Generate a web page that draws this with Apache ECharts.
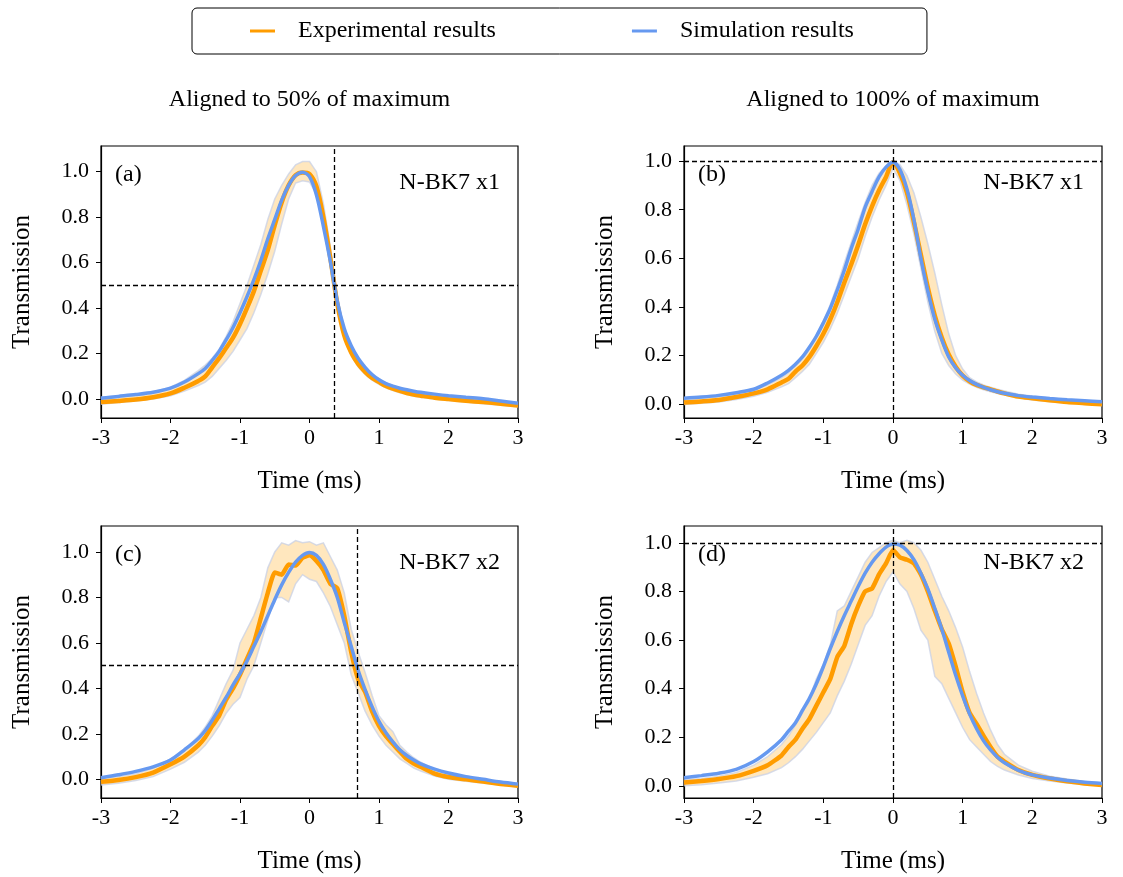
<!DOCTYPE html>
<html><head><meta charset="utf-8">
<script src="https://cdn.jsdelivr.net/npm/echarts@6/dist/echarts.min.js"></script>
<style>html,body{margin:0;padding:0;background:#fff}#c{width:1123px;height:877px}</style>
</head><body><div id="c"></div>
<script>
// shared time grid (ms)
const T = [-3,-2.75,-2.5,-2.25,-2,-1.8,-1.6,
  -1.5,-1.4,-1.3,-1.2,-1.1,-1.0,-0.9,-0.8,-0.7,-0.6,-0.5,-0.4,-0.3,-0.2,-0.1,0,0.1,0.2,0.3,0.4,0.5,0.6,0.7,0.8,0.9,1.0,1.1,1.2,1.3,1.4,1.5,
  1.6,1.8,2,2.25,2.5,2.75,3];

// (a) N-BK7 x1, aligned to 50%
const expA = [-0.013,-0.008,-0.002,0.008,0.025,0.05,0.08,
  0.1,0.14,0.18,0.225,0.27,0.33,0.4,0.475,0.565,0.655,0.765,0.865,0.94,0.985,0.997,0.99,0.935,0.8,0.62,0.42,0.28,0.205,0.155,0.12,0.093,0.075,0.058,0.046,0.036,0.027,0.02,
  0.015,0.006,0.0,-0.007,-0.013,-0.02,-0.028];
const simA = [0.004,0.012,0.02,0.03,0.048,0.075,0.112,
  0.135,0.17,0.21,0.26,0.315,0.38,0.45,0.525,0.61,0.705,0.79,0.875,0.94,0.983,0.998,0.978,0.897,0.76,0.605,0.43,0.31,0.235,0.18,0.14,0.108,0.085,0.068,0.057,0.048,0.041,0.035,
  0.03,0.022,0.015,0.008,0.002,-0.008,-0.018];
const loA = [-0.022,-0.015,-0.008,0.0,0.015,0.035,0.06,
  0.075,0.1,0.135,0.17,0.21,0.26,0.31,0.38,0.46,0.55,0.65,0.77,0.88,0.95,0.96,0.955,0.9,0.77,0.6,0.405,0.265,0.19,0.142,0.108,0.083,0.065,0.05,0.038,0.028,0.02,0.013,
  0.008,0.0,-0.006,-0.013,-0.02,-0.027,-0.034];
const hiA = [0.008,0.015,0.022,0.033,0.052,0.082,0.125,
  0.15,0.18,0.22,0.275,0.34,0.42,0.5,0.59,0.68,0.79,0.88,0.94,0.99,1.03,1.045,1.045,1.0,0.86,0.67,0.45,0.31,0.23,0.175,0.138,0.108,0.09,0.072,0.06,0.05,0.042,0.035,
  0.028,0.018,0.01,0.003,-0.004,-0.01,-0.018];

// (b) N-BK7 x1, aligned to 100%
const expB = [0.008,0.012,0.018,0.03,0.045,0.062,0.09,
  0.105,0.135,0.16,0.195,0.24,0.29,0.35,0.42,0.5,0.575,0.655,0.74,0.815,0.88,0.935,0.995,0.95,0.87,0.75,0.615,0.48,0.365,0.275,0.205,0.155,0.118,0.095,0.08,0.07,0.062,0.053,
  0.045,0.032,0.025,0.017,0.01,0.005,0.0];
const simB = [0.025,0.03,0.037,0.048,0.062,0.088,0.12,
  0.14,0.165,0.195,0.235,0.28,0.335,0.395,0.47,0.55,0.64,0.72,0.81,0.875,0.935,0.975,0.995,0.965,0.885,0.76,0.6,0.465,0.35,0.265,0.195,0.15,0.12,0.098,0.082,0.07,0.06,0.052,
  0.046,0.036,0.03,0.024,0.019,0.015,0.011];
const loB = [0.0,0.005,0.01,0.02,0.033,0.05,0.072,
  0.085,0.11,0.135,0.165,0.21,0.255,0.31,0.375,0.45,0.525,0.6,0.69,0.77,0.84,0.9,0.97,0.92,0.82,0.7,0.56,0.42,0.3,0.21,0.16,0.125,0.1,0.083,0.07,0.06,0.052,0.045,
  0.038,0.026,0.018,0.011,0.005,0.0,-0.005];
const hiB = [0.02,0.025,0.032,0.045,0.06,0.08,0.11,
  0.13,0.16,0.195,0.235,0.285,0.34,0.41,0.49,0.58,0.665,0.75,0.83,0.9,0.95,0.98,1.0,0.985,0.94,0.87,0.77,0.66,0.54,0.41,0.29,0.2,0.145,0.11,0.092,0.08,0.07,0.062,
  0.055,0.042,0.034,0.026,0.02,0.014,0.008];

// (c) N-BK7 x2, aligned to 50%
const expC = [-0.011,-0.003,0.01,0.03,0.066,0.1,0.15,
  0.185,0.235,0.28,0.35,0.4,0.46,0.53,0.6,0.71,0.82,0.91,0.9,0.945,0.94,0.975,0.985,0.96,0.92,0.86,0.84,0.72,0.56,0.44,0.385,0.3,0.235,0.19,0.155,0.122,0.09,0.07,
  0.055,0.025,0.01,0.0,-0.01,-0.02,-0.028];
const simC = [0.007,0.02,0.035,0.055,0.085,0.13,0.18,
  0.215,0.26,0.31,0.36,0.415,0.465,0.52,0.585,0.65,0.72,0.79,0.855,0.91,0.955,0.985,0.998,0.985,0.945,0.88,0.8,0.69,0.585,0.48,0.395,0.32,0.255,0.205,0.165,0.13,0.105,0.085,
  0.068,0.045,0.028,0.012,0.0,-0.012,-0.021];
const loC = [-0.025,-0.017,-0.005,0.012,0.045,0.075,0.12,
  0.15,0.19,0.235,0.29,0.33,0.36,0.44,0.5,0.6,0.7,0.8,0.8,0.78,0.86,0.9,0.88,0.87,0.82,0.76,0.68,0.6,0.46,0.38,0.3,0.24,0.19,0.15,0.12,0.09,0.07,0.05,
  0.037,0.015,0.0,-0.008,-0.017,-0.025,-0.034];
const hiC = [0.005,0.012,0.025,0.05,0.09,0.13,0.19,
  0.23,0.28,0.35,0.42,0.48,0.6,0.66,0.72,0.8,0.93,1.0,1.04,1.03,1.05,1.04,1.045,1.03,1.04,0.98,0.92,0.82,0.66,0.56,0.47,0.37,0.28,0.24,0.21,0.15,0.12,0.095,
  0.075,0.045,0.025,0.01,0.0,-0.01,-0.018];

// (d) N-BK7 x2, aligned to 100%
const expD = [0.014,0.02,0.028,0.04,0.062,0.085,0.125,
  0.16,0.19,0.235,0.275,0.33,0.385,0.44,0.53,0.575,0.665,0.74,0.8,0.812,0.87,0.915,0.97,0.94,0.93,0.915,0.87,0.8,0.72,0.645,0.585,0.49,0.385,0.3,0.255,0.205,0.16,0.12,
  0.1,0.065,0.045,0.03,0.019,0.01,0.003];
const simD = [0.033,0.042,0.052,0.068,0.1,0.14,0.19,
  0.225,0.26,0.31,0.36,0.42,0.49,0.565,0.635,0.7,0.76,0.82,0.875,0.92,0.955,0.982,0.995,0.99,0.968,0.93,0.875,0.81,0.73,0.645,0.55,0.455,0.37,0.295,0.235,0.185,0.148,0.118,
  0.095,0.064,0.045,0.032,0.022,0.015,0.01];
const loD = [0.0,0.005,0.012,0.02,0.035,0.05,0.075,
  0.095,0.12,0.15,0.185,0.22,0.26,0.3,0.37,0.43,0.5,0.58,0.66,0.7,0.78,0.84,0.88,0.83,0.8,0.73,0.64,0.6,0.45,0.42,0.36,0.3,0.24,0.19,0.16,0.13,0.1,0.08,
  0.065,0.045,0.03,0.02,0.012,0.005,0.0];
const hiD = [0.025,0.03,0.04,0.055,0.085,0.12,0.17,
  0.205,0.25,0.3,0.36,0.44,0.5,0.58,0.72,0.74,0.8,0.86,0.92,0.96,0.98,1.0,1.01,1.0,1.01,1.0,0.97,0.92,0.85,0.78,0.72,0.65,0.57,0.47,0.38,0.3,0.23,0.17,
  0.13,0.085,0.06,0.04,0.028,0.018,0.01];

const yTicks = [0, 0.2, 0.4, 0.6, 0.8, 1.0];
const seriesNames = ['Experimental results', 'Simulation results'];
const columnTitles = ['Aligned to 50% of maximum', 'Aligned to 100% of maximum'];
const panelLabels = ['(a)', '(b)', '(c)', '(d)'];
const sampleLabels = ['N-BK7 x1', 'N-BK7 x1', 'N-BK7 x2', 'N-BK7 x2'];
const refX = [0.36, 0, 0.68, 0];
const refY = [0.5, 1.0, 0.5, 1.0];
const yMin = [-0.083, -0.056, -0.082, -0.05];
const yMax = [1.113, 1.062, 1.114, 1.069];

const panels = [
  {exp: expA, sim: simA, lo: loA, hi: hiA},
  {exp: expB, sim: simB, lo: loB, hi: hiB},
  {exp: expC, sim: simC, lo: loC, hi: hiC},
  {exp: expD, sim: simD, lo: loD, hi: hiD}
];

const FONT = 'Liberation Serif';
const ORANGE = '#FF9C00';
const BLUE = '#6699F0';
const gridBoxes = [
  {left: 101, top: 146, width: 417, height: 272},
  {left: 684, top: 146, width: 418, height: 272},
  {left: 101, top: 526, width: 417, height: 272},
  {left: 684, top: 526, width: 418, height: 272}
];

const grid = gridBoxes.map(g => Object.assign({show: true, borderColor: '#000', borderWidth: 1.2, backgroundColor: 'transparent', containLabel: false}, g));

const xAxis = gridBoxes.map((g, i) => ({
  gridIndex: i, type: 'value', min: -3, max: 3, interval: 1,
  axisLine: {show: true, onZero: false, lineStyle: {color: '#000', width: 1.2}},
  axisTick: {show: true, inside: false, length: 5, lineStyle: {color: '#000', width: 1}},
  axisLabel: {color: '#000', fontFamily: FONT, fontSize: 22, margin: 9},
  splitLine: {show: false},
  name: 'Time (ms)', nameLocation: 'middle', nameGap: 51,
  nameTextStyle: {color: '#000', fontFamily: FONT, fontSize: 25}
}));

const yAxis = gridBoxes.map((g, i) => ({
  gridIndex: i, type: 'value', min: yMin[i], max: yMax[i],
  axisLine: {show: true, onZero: false, lineStyle: {color: '#000', width: 1.2}},
  axisTick: {show: true, inside: false, length: 5, customValues: yTicks, lineStyle: {color: '#000', width: 1}},
  axisLabel: {color: '#000', fontFamily: FONT, fontSize: 22, margin: 12, customValues: yTicks,
    formatter: v => Number(v).toFixed(1)},
  splitLine: {show: false},
  name: 'Transmission', nameLocation: 'middle', nameGap: 66,
  nameTextStyle: {color: '#000', fontFamily: FONT, fontSize: 25}
}));

const series = [];
panels.forEach((p, i) => {
  series.push({
    type: 'custom', name: 'band' + i, xAxisIndex: i, yAxisIndex: i, silent: true, clip: true, z: 1,
    data: T.map((t, k) => [t, p.lo[k], p.hi[k]]),
    encode: {x: 0, y: [1, 2]},
    renderItem: (params, api) => {
      if (params.dataIndex !== 0) return null;
      const up = T.map((t, k) => api.coord([t, p.hi[k]]));
      const dn = T.map((t, k) => api.coord([t, p.lo[k]])).reverse();
      return {
        type: 'polygon', shape: {points: up.concat(dn)},
        style: {fill: 'rgba(255,168,20,0.28)', stroke: 'rgba(200,208,230,0.75)', lineWidth: 1.5}
      };
    }
  });
  series.push({
    type: 'line', name: seriesNames[0], xAxisIndex: i, yAxisIndex: i, z: 3,
    data: T.map((t, k) => [t, p.exp[k]]),
    showSymbol: false, symbol: 'none', smooth: (i >= 2 ? 0.15 : 0.3),
    lineStyle: {color: ORANGE, width: 4.5}, itemStyle: {color: ORANGE}
  });
  series.push({
    type: 'line', name: seriesNames[1], xAxisIndex: i, yAxisIndex: i, z: 4,
    data: T.map((t, k) => [t, p.sim[k]]),
    showSymbol: false, symbol: 'none', smooth: 0.3,
    lineStyle: {color: BLUE, width: 3.5}, itemStyle: {color: BLUE},
    markLine: {
      silent: true, symbol: ['none', 'none'], label: {show: false}, animation: false,
      lineStyle: {color: '#000', type: [5, 3], width: 1.3},
      data: [{xAxis: refX[i]}, {yAxis: refY[i]}]
    }
  });
});

const graphic = [];
columnTitles.forEach((t, c) => {
  const g = gridBoxes[c];
  graphic.push({type: 'text', x: g.left + g.width / 2, y: 100,
    style: {text: t, textAlign: 'center', textVerticalAlign: 'middle', align: 'center', verticalAlign: 'middle',
      font: '24px "' + FONT + '"', fill: '#000'}});
});
gridBoxes.forEach((g, i) => {
  graphic.push({type: 'text', x: g.left + 14, y: g.top + 29,
    style: {text: panelLabels[i], textAlign: 'left', textVerticalAlign: 'middle', align: 'left', verticalAlign: 'middle',
      font: '24px "' + FONT + '"', fill: '#000'}});
  graphic.push({type: 'text', x: g.left + g.width - 18, y: g.top + 37,
    style: {text: sampleLabels[i], textAlign: 'right', textVerticalAlign: 'middle', align: 'right', verticalAlign: 'middle',
      font: '24px "' + FONT + '"', fill: '#000'}});
});

const chart = echarts.init(document.getElementById('c'), null, {renderer: 'canvas'});
chart.setOption({
  animation: false,
  backgroundColor: '#fff',
  grid, xAxis, yAxis, series, graphic,
  legend: {
    data: seriesNames, left: 192, top: 8, padding: [11, 73, 11, 58], itemGap: 136,
    itemWidth: 25, itemHeight: 3, icon: 'rect',
    borderColor: '#000', borderWidth: 1, borderRadius: 5,
    textStyle: {fontFamily: FONT, fontSize: 24, color: '#000', padding: [0, 0, 0, 18]}
  }
});
</script></body></html>
